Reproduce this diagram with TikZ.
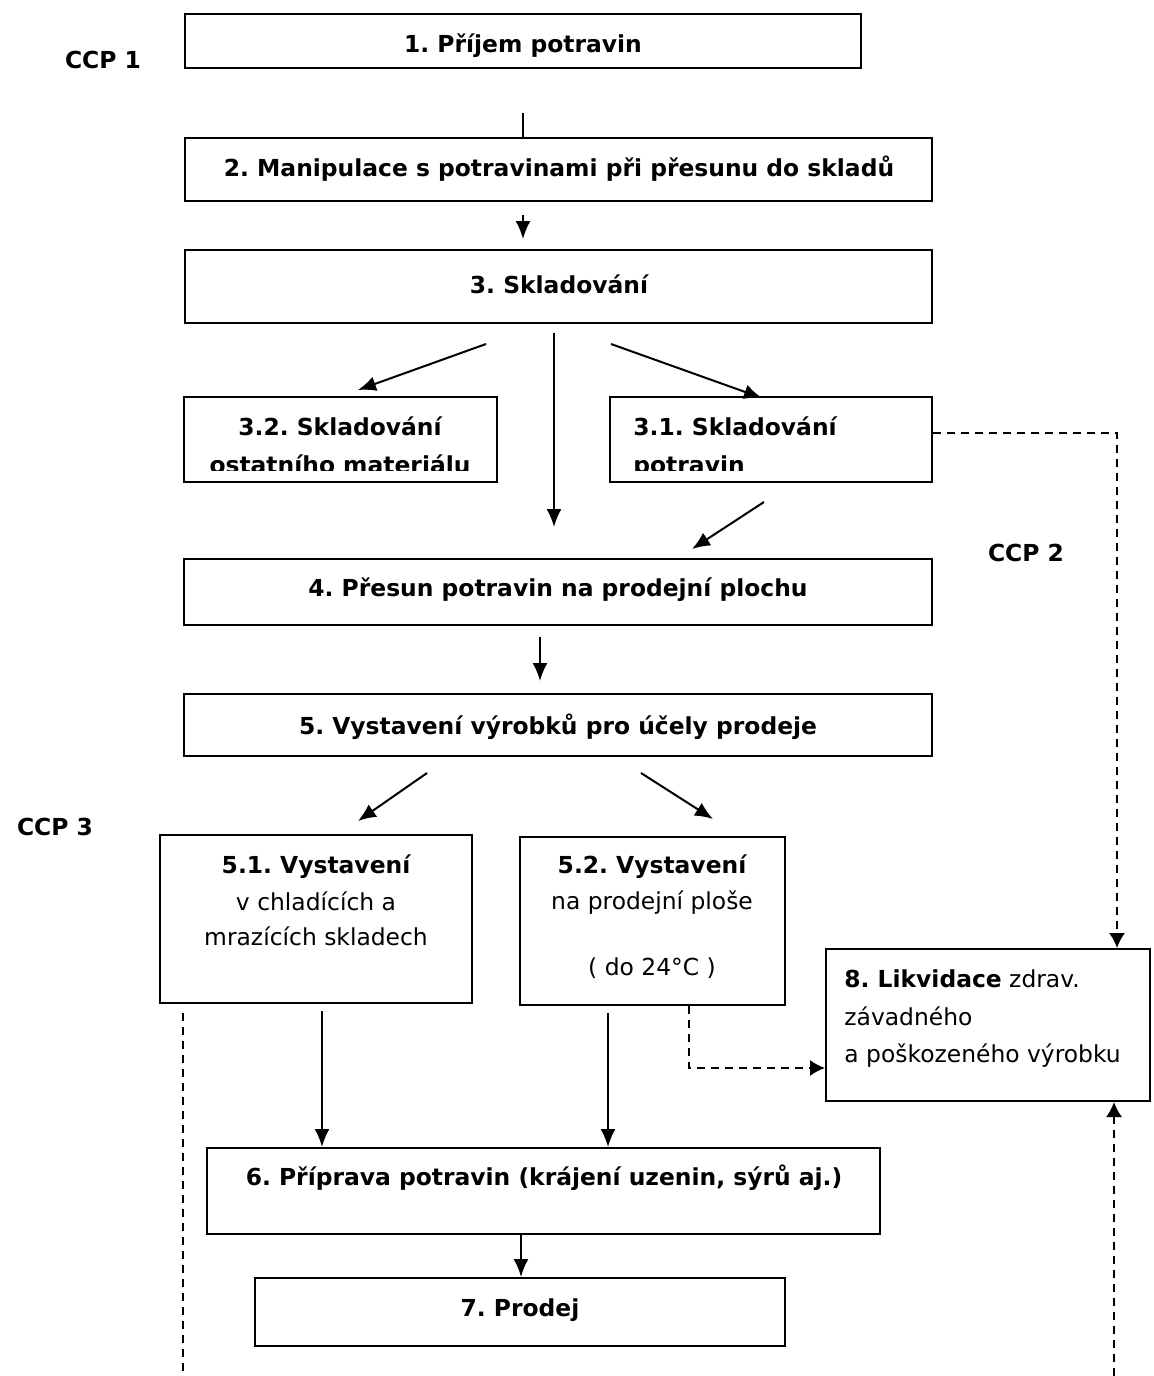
\documentclass[tikz,border=0pt]{standalone}
\usepackage{fontspec}
\setmainfont{DejaVu Sans}
\usetikzlibrary{arrows.meta,calc,fit}
\begin{document}
\frenchspacing
\begin{tikzpicture}[x=0.5pt,y=-0.5pt,
  every node/.style={font=\fontsize{11.7}{18}\selectfont, inner sep=0pt},
  box/.style={draw, line width=1pt, inner sep=0pt},
  bt/.style={font=\fontsize{11.7}{18}\selectfont\bfseries},
  conn/.style={line width=1pt, -{Latex[length=9pt,width=7.5pt]}},
  plain/.style={line width=1pt},
  dasharr/.style={line width=0.9pt, dash pattern=on 4pt off 3pt, -{Latex[length=7.5pt,width=8pt]}},
  dashln/.style={line width=0.8pt, dash pattern=on 4pt off 3pt}]
\useasboundingbox (0,0) rectangle (1153,1376);

% boxes
\node[box, fit={(185,14) (861,68)}] (b1) {};
\node[box, fit={(185,138) (932,201)}] (b2) {};
\node[box, fit={(185,250) (932,323)}] (b3) {};
\node[box, fit={(184,397) (497,482)}] (b32) {};
\node[box, fit={(610,397) (932,482)}] (b31) {};
\node[box, fit={(184,559) (932,625)}] (b4) {};
\node[box, fit={(184,694) (932,756)}] (b5) {};
\node[box, fit={(160,835) (472,1003)}] (b51) {};
\node[box, fit={(520,837) (785,1005)}] (b52) {};
\node[box, fit={(826,949) (1150,1101)}] (b8) {};
\node[box, fit={(207,1148) (880,1234)}] (b6) {};
\node[box, fit={(255,1278) (785,1346)}] (b7) {};

% box texts
\node[bt, anchor=base] (t1) at (523,52) {1. Příjem potravin};
\node[bt, anchor=base] (t2) at (559,176) {2. Manipulace s potravinami při přesunu do skladů};
\node[bt, anchor=base] (t3) at (559,293) {3. Skladování};
\node[bt, anchor=base] (t4) at (558,596) {4. Přesun potravin na prodejní plochu};
\node[bt, anchor=base] (t5) at (558,734) {5. Vystavení výrobků pro účely prodeje};
\node[bt, anchor=base] (t7) at (520,1316) {7. Prodej};

% CCP labels
\node[bt, anchor=base] (ccp1) at (103,68) {CCP 1};
\node[bt, anchor=base] (ccp2) at (1026,561) {CCP 2};
\node[bt, anchor=base] (ccp3) at (55,835) {CCP 3};

% texts in 3.2 / 3.1 (second line clipped)
\node[bt, anchor=base] (t32a) at (340,435) {3.2. Skladování};
\node[bt, anchor=base west] (t31a) at (633,435) {3.1. Skladování};
\begin{scope}
  \clip (0,0) rectangle (1153,470);
  \node[bt, anchor=base] (t32b) at (340,473) {ostatního materiálu};
  \node[bt, anchor=base west] (t31b) at (633,473) {potravin};
\end{scope}

% texts in 5.1 / 5.2
\node[bt, anchor=base] (t51a) at (316,873) {5.1. Vystavení};
\node[anchor=base] (t51b) at (316,910) {v chladících a};
\node[anchor=base] (t51c) at (316,945) {mrazících skladech};
\node[bt, anchor=base] (t52a) at (652,873) {5.2. Vystavení};
\node[anchor=base] (t52b) at (652,909) {na prodejní ploše};
\node[anchor=base] (t52c) at (652,975) {( do 24°C )};

% texts in 8
\node[anchor=base west] (t8a) at (844,987) {\textbf{8. Likvidace} zdrav.};
\node[anchor=base west] (t8b) at (844,1025) {závadného};
\node[anchor=base west] (t8c) at (844,1062) {a poškozeného výrobku};

% text in 6
\node[bt, anchor=base] (t6) at (544,1185) {6. Příprava potravin (krájení uzenin, sýrů aj.)};

% free connector ends
\coordinate (c12) at (523,113);
\coordinate (c23a) at (523,215);
\coordinate (c23b) at (523,239);
\coordinate (c3a) at (486,344);
\coordinate (c3ae) at (358,390);
\coordinate (c3b) at (554,333);
\coordinate (c3be) at (554,527);
\coordinate (c3c) at (611,344);
\coordinate (c3ce) at (762,398);
\coordinate (c31a) at (764,502);
\coordinate (c31e) at (692,549);
\coordinate (c45a) at (540,637);
\coordinate (c45b) at (540,681);
\coordinate (c5a) at (427,773);
\coordinate (c5ae) at (358,821);
\coordinate (c5b) at (641,773);
\coordinate (c5be) at (713,819);
\coordinate (c516) at (322,1011);
\coordinate (c526) at (608,1013);
\coordinate (c67) at (521,1234);
\coordinate (d1) at (1117,433);
\coordinate (d2) at (689,1068);
\coordinate (d3) at (1114,1376);
\coordinate (d4a) at (183,1013);
\coordinate (d4b) at (183,1376);

% connectors
\draw[plain] (c12) -- (c12 |- b2.north);
\draw[conn] (c23a) -- (c23b);
\draw[conn] (c3a) -- (c3ae);
\draw[conn] (c3b) -- (c3be);
\draw[conn] (c3c) -- (c3ce);
\draw[conn] (c31a) -- (c31e);
\draw[conn] (c45a) -- (c45b);
\draw[conn] (c5a) -- (c5ae);
\draw[conn] (c5b) -- (c5be);
\draw[conn] (c516) -- (c516 |- b6.north);
\draw[conn] (c526) -- (c526 |- b6.north);
\draw[conn] (c67) -- (c67 |- b7.north);

% dashed connectors
\draw[dasharr] (d1 -| b31.east) -- (d1) -- (d1 |- b8.north);
\draw[dasharr] (d2 |- b52.south) |- (d2 -| b8.west);
\draw[dasharr] (d3) -- (d3 |- b8.south);
\draw[dashln] (d4a) -- (d4b);
\end{tikzpicture}
\end{document}
